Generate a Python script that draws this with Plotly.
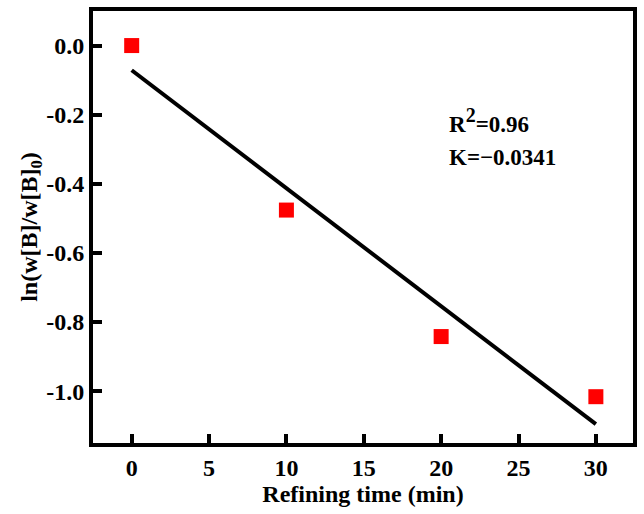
import numpy as np
import plotly.graph_objects as go

time_min = [0, 10, 20, 30]
ln_ratio = [0.0, -0.476, -0.842, -1.016]
x_ticks = [0, 5, 10, 15, 20, 25, 30]
y_ticks = [0.0, -0.2, -0.4, -0.6, -0.8, -1.0]
y_tick_text = ["0.0", "-0.2", "-0.4", "-0.6", "-0.8", "-1.0"]

slope, intercept = np.polyfit(time_min, ln_ratio, 1)
fit_x = [time_min[0], time_min[-1]]
fit_y = [intercept + slope * v for v in fit_x]

font = "Liberation Serif"
fig = go.Figure()
fig.add_trace(go.Scatter(x=fit_x, y=fit_y, mode="lines",
                         line=dict(color="black", width=4), showlegend=False))
fig.add_trace(go.Scatter(x=time_min, y=ln_ratio, mode="markers",
                         marker=dict(symbol="square", size=15, color="#ff0000",
                                     line=dict(width=0)), showlegend=False))

fig.add_annotation(x=0.655, y=0.79, xref="paper", yref="paper", xanchor="left",
                   text="<b>R<sup><span style='font-size:20px'>2</span></sup>=0.96</b>",
                   showarrow=False, font=dict(family=font, size=23, color="black"))
fig.add_annotation(x=0.655, y=0.695, xref="paper", yref="paper", xanchor="left",
                   text="<b>K=\u22120.0341</b>", showarrow=False,
                   font=dict(family=font, size=23, color="black"))


def axis(tickvals, ticktext, rng, title):
    return dict(
        range=rng, tickmode="array", tickvals=tickvals, ticktext=ticktext,
        showline=True, linecolor="black", linewidth=4, mirror=True,
        ticks="inside", ticklen=9, tickwidth=4, tickcolor="black",
        showgrid=False, zeroline=False,
        tickfont=dict(family=font, size=24, color="black"),
        title=dict(text=title, font=dict(family=font, size=24, color="black"), standoff=2),
    )


fig.update_layout(
    width=644, height=514, plot_bgcolor="white", paper_bgcolor="white",
    margin=dict(l=93, r=10, t=7, b=71),
    font=dict(family=font, size=24, color="black"),
    xaxis=axis(x_ticks, [f"<b>{v}</b>" for v in x_ticks], [-2.5, 32.4],
               "<b>Refining time (min)</b>"),
    yaxis=axis(y_ticks, [f"<b>{t}</b>" for t in y_tick_text], [-1.15, 0.1],
               "<b>ln(w[B]/w[B]<sub>0</sub>)</b>"),
)
# explicit inside tick marks along left and bottom edges, placed in data coords
fig.update_xaxes(minor=dict(ticks=""))
fig.write_html("out.html")
